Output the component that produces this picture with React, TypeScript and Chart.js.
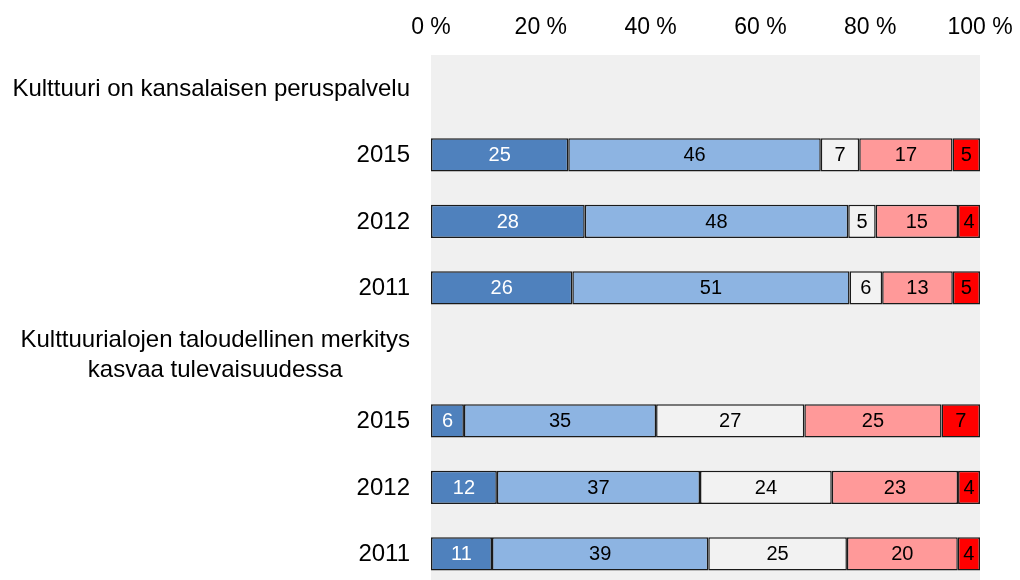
import React, { useEffect, useRef } from "react";
import { Chart, registerables } from "chart.js";

Chart.register(...registerables);

const categories: (string | string[])[] = [
  "Kulttuuri on kansalaisen peruspalvelu",
  "2015",
  "2012",
  "2011",
  ["Kulttuurialojen taloudellinen merkitys", "kasvaa tulevaisuudessa"],
  "2015",
  "2012",
  "2011",
];

const seriesNames = [
  "Täysin samaa mieltä",
  "Jokseenkin samaa mieltä",
  "En osaa sanoa",
  "Jokseenkin eri mieltä",
  "Täysin eri mieltä",
];

const s1 = [null, 25, 28, 26, null, 6, 12, 11];
const s2 = [null, 46, 48, 51, null, 35, 37, 39];
const s3 = [null, 7, 5, 6, null, 27, 24, 25];
const s4 = [null, 17, 15, 13, null, 25, 23, 20];
const s5 = [null, 5, 4, 5, null, 7, 4, 4];

const xTicks = [0, 20, 40, 60, 80, 100];

const colors = ["#4F81BD", "#8DB4E2", "#F2F2F2", "#FF9999", "#FF0000"];
const labelColors = ["#FFFFFF", "#000000", "#000000", "#000000", "#000000"];

const FONT = '"Liberation Sans", Arial, sans-serif';

export default function App() {
  const ref = useRef<HTMLCanvasElement | null>(null);

  useEffect(() => {
    document.body.style.margin = "0";
    const canvas = ref.current;
    if (!canvas) return;
    const raw = [s1, s2, s3, s4, s5];
    const totals = categories.map((_, i) =>
      raw.reduce((a, s) => a + (s[i] == null ? 0 : (s[i] as number)), 0)
    );
    const datasets = raw.map((s, k) => ({
      label: seriesNames[k],
      data: s.map((v, i) => (v == null ? null : ((v as number) / totals[i]) * 100)),
      backgroundColor: colors[k],
      borderColor: "#1a1a1a",
      borderWidth: 1.5,
      borderSkipped: false as const,
      barPercentage: 0.5,
      categoryPercentage: 1,
    }));

    const bgPlugin = {
      id: "bg",
      beforeDatasetsDraw(chart: any) {
        const { ctx, chartArea } = chart;
        ctx.save();
        ctx.fillStyle = "#F0F0F0";
        ctx.fillRect(chartArea.left, chartArea.top, chartArea.right - chartArea.left, chartArea.bottom - chartArea.top);
        ctx.restore();
      },
    };

    const labelPlugin = {
      id: "labels",
      afterDatasetsDraw(chart: any) {
        const { ctx } = chart;
        ctx.save();
        ctx.font = `20px ${FONT}`;
        ctx.textAlign = "center";
        ctx.textBaseline = "middle";
        raw.forEach((s, k) => {
          const meta = chart.getDatasetMeta(k);
          meta.data.forEach((el: any, i: number) => {
            const v = s[i];
            if (v == null) return;
            ctx.fillStyle = labelColors[k];
            ctx.fillText(String(v), (el.x + el.base) / 2, el.y + 1);
          });
        });
        // category labels
        const yScale = chart.scales.y;
        ctx.font = `24px ${FONT}`;
        ctx.fillStyle = "#000000";
        const right = 410;
        const lh = 30;
        categories.forEach((c, i) => {
          const lines = Array.isArray(c) ? c : [c];
          const cy = yScale.getPixelForValue(i) + 1;
          const maxW = Math.max(...lines.map((l) => ctx.measureText(l).width));
          const cx = right - maxW / 2;
          lines.forEach((l, j) => {
            const y = cy + (j - (lines.length - 1) / 2) * lh;
            ctx.fillText(l, cx, y);
          });
        });
        ctx.restore();
      },
    };

    const chart = new Chart(canvas, {
      type: "bar",
      data: { labels: categories.map((c) => (Array.isArray(c) ? c.join(" ") : c)), datasets },
      options: {
        indexAxis: "y",
        animation: false,
        responsive: false,
        maintainAspectRatio: false,
        layout: { padding: { left: 0, right: 40, top: 0, bottom: 13 } },
        plugins: { legend: { display: false }, tooltip: { enabled: false } },
        scales: {
          x: {
            position: "top",
            stacked: true,
            min: 0,
            max: 100,
            afterBuildTicks(scale: any) {
              scale.ticks = xTicks.map((v) => ({ value: v }));
            },
            ticks: {
              callback: (v: any) => `${v} %`,
              font: { size: 23, family: FONT },
              color: "#000000",
              padding: 14,
              maxRotation: 0,
            },
            grid: { display: false, drawTicks: false },
            border: { display: false },
            afterFit(scale: any) {
              scale.height = 55;
              scale.paddingLeft = 0;
              scale.paddingRight = 0;
            },
          },
          y: {
            stacked: true,
            ticks: { display: false },
            grid: { display: false, drawTicks: false },
            border: { display: false },
            afterFit(scale: any) {
              scale.width = 431;
            },
          },
        },
      },
      plugins: [bgPlugin, labelPlugin],
    });
    return () => chart.destroy();
  }, []);

  return (
    <div style={{ width: 1020, height: 580, overflow: "hidden" }}>
      <canvas ref={ref} width={1020} height={600} style={{ display: "block" }} />
    </div>
  );
}
